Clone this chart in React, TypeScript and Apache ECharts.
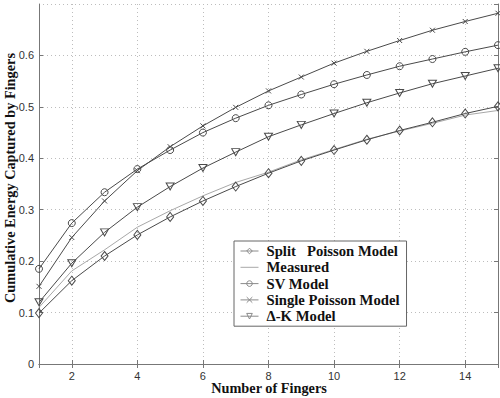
import React, { useEffect, useRef } from "react";
import * as echarts from "echarts";

const fingers = [1, 2, 3, 4, 5, 6, 7, 8, 9, 10, 11, 12, 13, 14, 15];
const splitPoisson = [0.099, 0.162, 0.21, 0.251, 0.286, 0.317, 0.345, 0.371, 0.395, 0.416, 0.436, 0.454, 0.47, 0.487, 0.501];
const measured = [0.11, 0.181, 0.222, 0.266, 0.298, 0.327, 0.353, 0.373, 0.397, 0.417, 0.437, 0.453, 0.468, 0.484, 0.493];
const svModel = [0.185, 0.274, 0.334, 0.379, 0.416, 0.45, 0.478, 0.503, 0.524, 0.544, 0.562, 0.579, 0.593, 0.607, 0.62];
const singlePoisson = [0.151, 0.246, 0.317, 0.376, 0.4225, 0.463, 0.499, 0.531, 0.558, 0.585, 0.608, 0.629, 0.649, 0.666, 0.682];
const deltaK = [0.12, 0.196, 0.256, 0.305, 0.345, 0.381, 0.412, 0.442, 0.465, 0.487, 0.508, 0.527, 0.545, 0.56, 0.575];

const seriesNames = ["Split   Poisson Model", "Measured", "SV Model", "Single Poisson Model", "\u0394-K Model"];
const xTitle = "Number of Fingers";
const yTitle = "Cumulative Energy Captured by Fingers";

const LINE = "#4a4a4a";
const LIGHT = "#a8a8a8";
const LEG_LINE = "#8a8a8a";
const SERIF = "'Liberation Serif', 'Times New Roman', serif";
const SANS = "'Liberation Sans', Arial, sans-serif";

const pair = (ys: number[]) => fingers.map((x, i) => [x, ys[i]]);

export default function App() {
  const ref = useRef<HTMLDivElement>(null);
  useEffect(() => {
    if (!ref.current) return;
    const chart = echarts.init(ref.current, undefined, { renderer: "svg" });
    const hollow = { color: "rgba(0,0,0,0)", borderColor: LINE, borderWidth: 1 };
    const marker = (symbol: string, size: number | number[]) => ({
      symbol,
      symbolSize: size,
      showSymbol: true,
      itemStyle: hollow,
      lineStyle: { color: LINE, width: 1 },
    });
    const legHollow = { color: "rgba(0,0,0,0)", borderColor: LEG_LINE, borderWidth: 1 };
    const gridLine = { show: true, lineStyle: { color: "#bdbdbd", width: 1, type: [1, 3] as any } };
    const titleStyle = { fontFamily: SERIF, fontWeight: "bold", fontSize: 14.3, fill: "#111", align: "center", verticalAlign: "middle" };
    chart.setOption({
      animation: false,
      backgroundColor: "#ffffff",
      grid: { left: 39, top: 4, right: 2, bottom: 34, show: false, containLabel: false, outerBoundsMode: "none" },
      legend: {
        orient: "vertical",
        left: 234,
        top: 241,
        padding: [2, 7, 2, 6],
        itemGap: 0.3,
        itemWidth: 18,
        itemHeight: 7,
        backgroundColor: "#ffffff",
        borderColor: "#666666",
        borderWidth: 1,
        borderRadius: 0,
        textStyle: { fontFamily: SERIF, fontWeight: "bold", fontSize: 14.7, color: "#111", padding: [0, 0, 0, 3], lineHeight: 16 },
        data: [
          { name: seriesNames[0], itemStyle: legHollow, lineStyle: { color: LEG_LINE, width: 1 } },
          { name: seriesNames[1], itemStyle: { opacity: 0 }, lineStyle: { color: LIGHT, width: 1 } },
          { name: seriesNames[2], itemStyle: legHollow, lineStyle: { color: LEG_LINE, width: 1 } },
          { name: seriesNames[3], itemStyle: legHollow, lineStyle: { color: LEG_LINE, width: 1 } },
          { name: seriesNames[4], itemStyle: legHollow, lineStyle: { color: LEG_LINE, width: 1 } },
        ],
      },
      graphic: [
        { type: "text", x: 10, y: 178, rotation: Math.PI / 2, style: { text: yTitle, ...titleStyle } },
        { type: "text", x: 269, y: 388, style: { text: xTitle, ...titleStyle } },
      ],
      xAxis: [
        {
          type: "value",
          min: 1,
          max: 15,
          splitNumber: 7,
          position: "bottom",
          axisLine: { lineStyle: { color: "#777", width: 1 } },
          axisTick: { inside: true, length: 4, lineStyle: { color: "#777" } },
          axisLabel: { fontFamily: SANS, fontSize: 11, color: "#333", margin: 6, showMinLabel: false, showMaxLabel: false },
          splitLine: gridLine,
        },
        {
          type: "value",
          min: 1,
          max: 15,
          splitNumber: 7,
          position: "top",
          axisLine: { lineStyle: { color: "#777", width: 1 } },
          axisTick: { inside: true, length: 4, lineStyle: { color: "#777" } },
          axisLabel: { show: false },
          splitLine: { show: false },
        },
      ],
      yAxis: [
        {
          type: "value",
          min: 0,
          max: 0.7,
          interval: 0.1,
          position: "left",
          axisLine: { show: true, lineStyle: { color: "#777", width: 1 } },
          axisTick: { show: true, inside: true, length: 4, lineStyle: { color: "#777" } },
          axisLabel: { fontFamily: SANS, fontSize: 11, color: "#333", margin: 5, showMaxLabel: false, formatter: (v: number) => String(Math.round(v * 10) / 10) },
          splitLine: gridLine,
        },
        {
          type: "value",
          min: 0,
          max: 0.7,
          interval: 0.1,
          position: "right",
          axisLine: { show: true, lineStyle: { color: "#777", width: 1 } },
          axisTick: { show: true, inside: true, length: 4, lineStyle: { color: "#777" } },
          axisLabel: { show: false },
          splitLine: { show: false },
        },
      ],
      series: [
        { name: seriesNames[0], type: "line", data: pair(splitPoisson), z: 5, ...marker("diamond", [7, 9]) },
        {
          name: seriesNames[1],
          type: "line",
          data: pair(measured),
          showSymbol: false,
          symbol: "none",
          z: 4,
          itemStyle: { color: LIGHT },
          lineStyle: { color: LIGHT, width: 1 },
        },
        { name: seriesNames[2], type: "line", data: pair(svModel), z: 5, ...marker("circle", 7) },
        { name: seriesNames[3], type: "line", data: pair(singlePoisson), z: 5, ...marker("path://M0,0L10,10M0,10L10,0", 5) },
        { name: seriesNames[4], type: "line", data: pair(deltaK), z: 5, ...marker("path://M0,0L10,0L5,8.66Z", [8, 7]) },
      ],
    });
    return () => chart.dispose();
  }, []);
  return <div ref={ref} style={{ position: "absolute", left: 0, top: 0, width: 500, height: 398 }} />;
}
